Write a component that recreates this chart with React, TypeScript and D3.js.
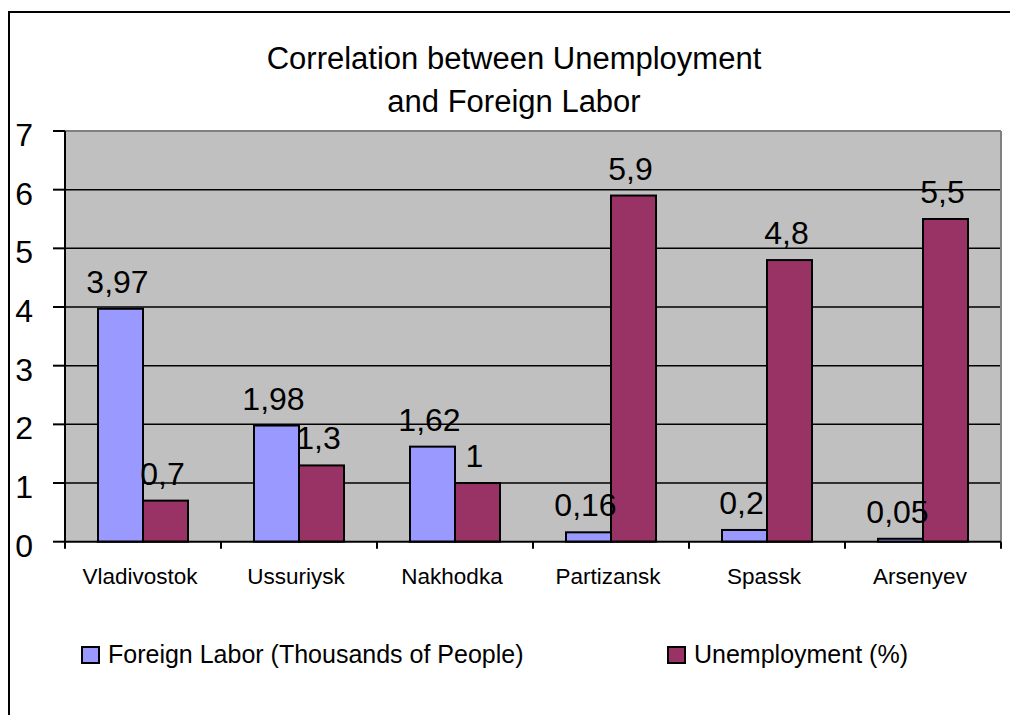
import React from "react";
import * as d3 from "d3";

const categories = ["Vladivostok", "Ussuriysk", "Nakhodka", "Partizansk", "Spassk", "Arsenyev"];
const seriesNames = ["Foreign Labor (Thousands of People)", "Unemployment (%)"];
const foreignLabor = [3.97, 1.98, 1.62, 0.16, 0.2, 0.05];
const unemployment = [0.7, 1.3, 1, 5.9, 4.8, 5.5];
const yTicks = [0, 1, 2, 3, 4, 5, 6, 7];
const colors = ["#9999FF", "#993366"];
const titleLines = ["Correlation between Unemployment", "and Foreign Labor"];

const FONT = "'Liberation Sans', Arial, sans-serif";

export default function App() {
  const W = 1010, H = 715;
  const left = 65, right = 1001, top = 131, bottom = 541.7;
  const x = d3.scaleBand<string>().domain(categories).range([left, right]);
  const inner = d3.scaleBand<string>().domain(["a", "b"]).range([33, 123]);
  const y = d3.scaleLinear().domain([0, 7]).range([bottom, top]);
  const values = [foreignLabor, unemployment];
  const fmt = (v: number) => String(v).replace(".", ",");

  const bars: any[] = [];
  const labels: any[] = [];
  categories.forEach((c, i) => {
    values.forEach((vals, s) => {
      const bx = (x(c) as number) + (inner(s === 0 ? "a" : "b") as number);
      const bw = inner.bandwidth();
      const v = vals[i];
      bars.push(
        <rect key={`b${i}-${s}`} x={bx} y={y(v)} width={bw} height={bottom - y(v)}
          fill={colors[s]} stroke="#000" strokeWidth={2} />
      );
      labels.push(
        <text key={`l${i}-${s}`} x={bx + bw / 2 - 3} y={y(v) - 16} textAnchor="middle"
          fontSize={32} fontFamily={FONT} fill="#000">{fmt(v)}</text>
      );
    });
  });

  return (
    <svg width={W} height={H} style={{ position: "absolute", left: 0, top: 0, background: "#fff" }}>
      <rect x={9} y={12} width={1020} height={730} fill="#fff" stroke="#000" strokeWidth={2} />
      {titleLines.map((t, i) => (
        <text key={t} x={514} y={69 + i * 43} textAnchor="middle" fontSize={31} fontFamily={FONT} fill="#000">{t}</text>
      ))}
      <rect x={left} y={top} width={right - left} height={bottom - top} fill="#C0C0C0" />
      {yTicks.filter(t => t > 0 && t < 7).map(t => (
        <line key={`g${t}`} x1={left} x2={right} y1={y(t)} y2={y(t)} stroke="#000" strokeWidth={1.5} />
      ))}
      <line x1={left} x2={right} y1={top} y2={top} stroke="#808080" strokeWidth={2} />
      <line x1={right} x2={right} y1={top} y2={bottom} stroke="#808080" strokeWidth={2} />
      {bars}
      <line x1={left} x2={left} y1={top} y2={bottom} stroke="#000" strokeWidth={2} />
      <line x1={left} x2={right} y1={bottom} y2={bottom} stroke="#000" strokeWidth={2} />
      {yTicks.map(t => (
        <g key={`t${t}`}>
          <line x1={53} x2={left} y1={y(t)} y2={y(t)} stroke="#000" strokeWidth={2} />
          <text x={33} y={y(t) + 15} textAnchor="end" fontSize={32} fontFamily={FONT} fill="#000">{t}</text>
        </g>
      ))}
      {categories.map(c => (
        <line key={`xt${c}`} x1={x(c) as number} x2={x(c) as number} y1={bottom} y2={bottom + 7} stroke="#000" strokeWidth={2} />
      ))}
      <line x1={right} x2={right} y1={bottom} y2={bottom + 7} stroke="#000" strokeWidth={2} />
      {categories.map(c => (
        <text key={`xl${c}`} x={(x(c) as number) + x.bandwidth() / 2 - 3} y={584} textAnchor="middle"
          fontSize={22.5} fontFamily={FONT} fill="#000">{c}</text>
      ))}
      {labels}
      {seriesNames.map((n, s) => {
        const lx = s === 0 ? 82 : 668;
        return (
          <g key={n}>
            <rect x={lx} y={647} width={17} height={16} fill={colors[s]} stroke="#000" strokeWidth={2} />
            <text x={lx + 26} y={663} fontSize={25} fontFamily={FONT} fill="#000">{n}</text>
          </g>
        );
      })}
    </svg>
  );
}
